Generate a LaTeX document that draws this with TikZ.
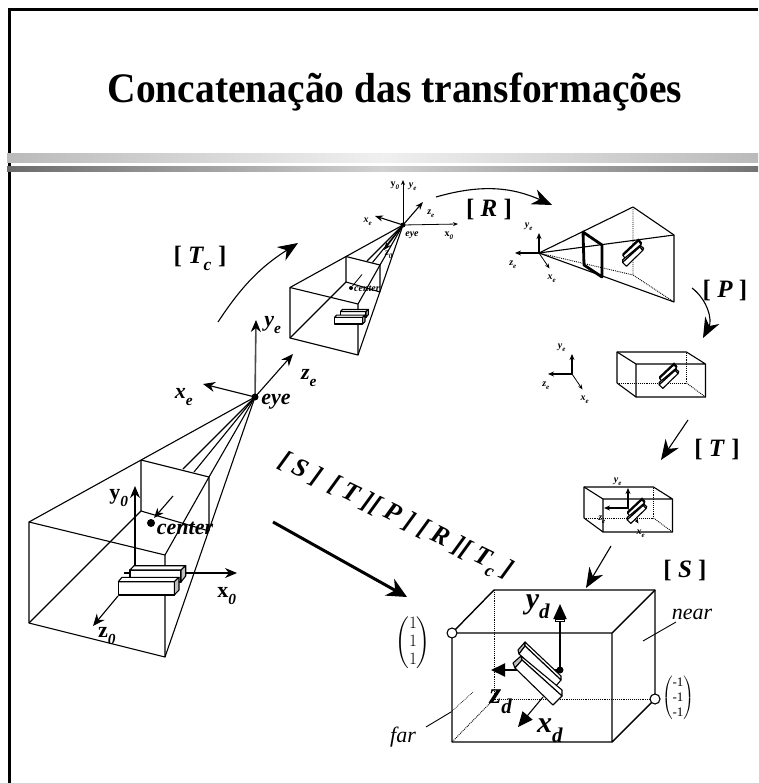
\documentclass[tikz,border=0pt]{standalone}
\usepackage{amsmath}
\usepackage{fontspec}
\setmainfont{Liberation Serif}
\usetikzlibrary{arrows.meta}
\newcommand{\lowsub}[1]{\raisebox{-.3ex}{\textsubscript{#1}}}
\tikzset{
    every node/.style={inner sep=0pt},
    edge/.style={line width=1.1pt, line join=round},
    hidden/.style={line width=.9pt, densely dotted},
    axis/.style={line width=1.1pt, -{Stealth[length=12pt,width=10pt]}},
    fatarrow/.style={line width=1.1pt, -{Stealth[length=20pt,width=16pt]}},
    smallthin/.style={line width=.8pt, -{Stealth[length=5pt,width=4pt]}},
    smallthick/.style={line width=1.8pt, -{Stealth[length=6pt,width=5pt]}},
    titletext/.style={font=\fontsize{42}{46}\selectfont\bfseries, xscale=.94},
    matlabel/.style={font=\fontsize{25}{27}\selectfont\bfseries},
    axbig/.style={font=\fontsize{30}{32}\selectfont\bfseries\itshape},
    axmid/.style={font=\fontsize{22}{24}\selectfont\bfseries\itshape},
    axtiny/.style={font=\fontsize{10}{11}\selectfont\bfseries\itshape},
    note/.style={font=\fontsize{22}{24}\selectfont\itshape},
}

\begin{document}
\begin{tikzpicture}[x=1pt, y=-1pt]
    \useasboundingbox (0,0) rectangle (758,783);

    % Frame and title
    \draw[line width=3pt] (9.5,783) -- (9.5,10) -- (758,10);
    \shade[left color=black!27, right color=black!27, middle color=black!6] (7,154) rectangle (758,163);
    \shade[left color=black!58, right color=black!55, middle color=black!18] (7,167) rectangle (758,172);
    \node[titletext] (title) at (395,92) {Concatenação das transformações};

    % Free ends of the arrows
    \foreach \nm/\x/\y in {tcA/218/322, tcB/298/243, rA/436/197, rB/552/205, pA/692/288, pB/703/338,
        tA/688/420, tB/661/460, sA/611/546, sB/586/588, allA/273/522, allB/407/597,
        mainEye/255/397, yeTip/256/320, xeTip/203/384, zeTip/293/354,
        mainY/135/565, yoTip/135/486, mainX/124/573, xoTip/237/573, mainZ/118/596, zoTip/93/626,
        camEye/403/225, camY/403/180, camX/458/224, camZe/423/202, camXe/375/216, camZo/384/250} {
        \coordinate (\nm) at (\x,\y);
    }

    % World frustum, and the same one seen from the eye at half size
    \foreach \fx/\fy/\fs in {0/0/1, 275.5/26.5/0.5} {
        \begin{scope}[shift={(\fx,\fy)}, scale=\fs]
            \coordinate (ap) at (255,397);
            \coordinate (fa) at (29,522);
            \coordinate (fb) at (165,555);
            \coordinate (fc) at (165,657);
            \coordinate (fd) at (29,623);
            \coordinate (na) at (141,460);
            \coordinate (nb) at (209,477);
            \coordinate (nc) at (209,531);
            \coordinate (nd) at (141,511);
            \coordinate (cen) at (151,523);
            \draw[edge] (fa) -- (fb) -- (fc) -- (fd) -- cycle;
            \draw[edge] (ap) -- (fa);
            \draw[edge] (ap) -- (fc);
            \draw[edge] (na) -- (nb) -- (nc);
            \draw[edge] (na) -- (nd) -- (nc);
            \draw[edge] (nb) -- (fb);
            \draw[edge] (nd) -- (fd);
            \draw[edge] (ap) -- (183,469);
            \draw[edge] (ap) -- (194,472);
            \draw[edge] (ap) -- (nb);
            \fill (cen) circle (4);
        \end{scope}
    }
    \draw[edge, -{Stealth[length=10pt,width=8pt]}] (173,496) -- (154,518);
    \draw[line width=.8pt] (362,274.5) -- (352.5,286);

    % World axes
    \draw[axis] (mainY) -- (yoTip);
    \draw[axis] (mainX) -- (xoTip);
    \draw[axis] (mainZ) -- (zoTip);

    % The two boxes, world view then eye view
    \foreach \fx/\fy/\fs in {0/0/1, 275.5/26.5/0.5} {
        \begin{scope}[shift={(\fx,\fy)}, scale=\fs]
            \draw[edge, fill=white] (130,570) rectangle (181,582);
            \draw[edge, fill=white] (134,565.7) -- (185.7,565.7) -- (181,570) -- (130,570) -- cycle;
            \draw[edge, fill=black!25] (181,570) -- (185.7,565.7) -- (185.7,576) -- (181,582) -- cycle;
            \draw[edge, fill=white] (118.3,581.7) rectangle (174.3,595);
            \draw[edge, fill=white] (122,577.3) -- (179,577.3) -- (174.3,581.7) -- (118.3,581.7) -- cycle;
            \draw[edge, fill=black!25] (174.3,581.7) -- (179,577.3) -- (179,590) -- (174.3,595) -- cycle;
        \end{scope}
    }

    % Axes at the eye
    \draw[axis, line width=1.6pt, black!70, -{Stealth[length=12pt,width=10pt,black]}] (mainEye) -- (yeTip);
    \draw[axis] (mainEye) -- (xeTip);
    \draw[axis] (mainEye) -- (zeTip);
    \fill (mainEye) circle (3.5);
    \draw[smallthin] (camEye) -- (camY);
    \draw[smallthin] (camEye) -- (camX);
    \draw[edge, -{Stealth[length=8pt,width=6pt]}] (camEye) -- (camZe);
    \draw[edge, -{Stealth[length=8pt,width=6pt]}] (camEye) -- (camXe);
    \draw[edge, -{Stealth[length=8pt,width=6pt]}] (camEye) -- (camZo);
    \fill (camEye) circle (2.5);

    % Labels of the world view
    \node[axmid] (lblEye) at (276,402) {eye};
    \node[axmid] (lblCenter) at (185,528) {center};
    \node[axmid] (lblXe) at (184,397) {x\lowsub{e}};
    \node[axmid] (lblYe) at (273,325) {y\lowsub{e}};
    \node[axmid] (lblZe) at (309,378) {z\lowsub{e}};
    \node[axmid] (lblYo) at (119,498) {\upshape y\lowsub{\itshape 0}};
    \node[axmid] (lblXo) at (227,596) {\upshape x\lowsub{\itshape 0}};
    \node[axmid] (lblZo) at (107,636) {\upshape z\lowsub{\itshape 0}};

    % Labels of the eye view
    \node[axtiny] (camLblYo) at (395,186) {\upshape y\lowsub{\itshape 0}};
    \node[axtiny] (camLblYe) at (413,187) {y\lowsub{e}};
    \node[axtiny] (camLblZe) at (431,214) {z\lowsub{e}};
    \node[axtiny] (camLblXe) at (368,222) {x\lowsub{e}};
    \node[axtiny] (camLblEye) at (412,235) {eye};
    \node[axtiny] (camLblXo) at (449,236) {\upshape x\lowsub{\itshape 0}};
    \node[axtiny] (camLblZo) at (389,255) {z\lowsub{0}};
    \node[axtiny] (camLblCen) at (367,289) {center};

    % Perspective frustum
    \coordinate (apex) at (539,253);
    \coordinate (farTop) at (633,207);
    \coordinate (farRight) at (674,235);
    \coordinate (farLow) at (674,302);
    \coordinate (farBack) at (633,275);
    \draw[edge] (apex) -- (farTop) -- (farRight) -- (farLow) -- cycle;
    \draw[edge] (apex) -- (farRight);
    \draw[hidden] (apex) -- (farBack);
    \draw[hidden] (farTop) -- (farBack) -- (farLow);
    \draw[line width=2.8pt, line join=round] (583,232) -- (602,245) -- (602,277) -- (584,265) -- cycle;

    % Canonical boxes, small
    \foreach \bx/\by in {617/352, 584/487} {
        \begin{scope}[shift={(\bx,\by)}]
            \draw[hidden] (0,31) -- (69.5,31) -- (69.5,0);
            \draw[hidden] (69.5,31) -- (88.5,45);
            \draw[edge] (0,31) -- (0,0) -- (69.5,0) -- (88.5,12) -- (88.5,45) -- (19,45) -- (19,12) -- (88.5,12);
            \draw[edge] (0,0) -- (19,12);
            \draw[edge] (0,31) -- (19,45);
        \end{scope}
    }

    % Small axes
    \foreach \g/\ox/\oy in {a/539/253, b/572/374, c/628/508} {
        \coordinate (org\g) at (\ox,\oy);
        \coordinate (ytip\g) at (\ox,\oy-20);
        \coordinate (ztip\g) at (\ox-24,\oy);
        \coordinate (xtip\g) at (\ox+10.5,\oy+15.5);
        \draw[smallthick] (org\g) -- (ytip\g);
        \draw[smallthick] (org\g) -- (ztip\g);
        \draw[smallthin] (org\g) -- (xtip\g);
        \node[axtiny] (y\g) at (\ox-10,\oy-26) {y\lowsub{e}};
        \node[axtiny] (z\g) at (\ox-26,\oy+12) {z\lowsub{e}};
        \node[axtiny] (x\g) at (\ox+13,\oy+26) {x\lowsub{e}};
    }

    % Big canonical box
    \coordinate (bTL) at (494,590);
    \coordinate (bTR) at (655,590);
    \coordinate (bBL) at (494,699);
    \coordinate (bBR) at (655,699);
    \coordinate (fTL) at (452,633);
    \coordinate (fTR) at (612,633);
    \coordinate (fBL) at (452,742);
    \coordinate (fBR) at (612,742);
    \draw[hidden] (bTL) -- (bBL) -- (bBR);
    \draw[hidden] (bBL) -- (fBL);
    \draw[edge, line width=1.4pt] (fTL) -- (bTL) -- (bTR) -- (bBR) -- (fBR) -- (fBL) -- (fTL) -- (fTR) -- (fBR);
    \draw[edge, line width=1.4pt] (fTR) -- (bTR);
    \draw[edge, fill=white] (fTL) circle (5);
    \draw[edge, fill=white] (bBR) circle (5);

    % Big axes
    \coordinate (orgd) at (560,670);
    \coordinate (ydTip) at (560,604);
    \coordinate (zdTip) at (491,670);
    \coordinate (xdTip) at (518,727);
    \draw[line width=2pt, -{Stealth[length=15pt,width=13pt,inset=0pt]}] (orgd) -- (ydTip);
    \draw[line width=.8pt, fill=white] (555.5,619) rectangle (564.5,621.5);
    \draw[line width=2pt, -{Stealth[length=14pt,width=13pt,inset=0pt]}] (orgd) -- (zdTip);
    \fill (orgd) circle (3.5);
    \draw[edge, -{Stealth[length=15pt,width=13pt,inset=0pt]}] (543,697) -- (xdTip);

    % Bars, same drawing at each size, the small ones mirrored
    \foreach \cx/\cy/\cs/\cm in {540/674/1/1, 632/253/0.43/-1, 668/376/0.4/-1, 636/511/0.4/-1} {
        \begin{scope}[shift={(\cx,\cy)}, scale=\cs, xscale=\cm]
            \draw[edge, fill=black!25] (-22,-24) -- (-15,-32) -- (-15,-28) -- (-21,-20) -- cycle;
            \draw[edge, fill=white] (-15,-32) -- (21,2) -- (21,6) -- (-15,-28) -- cycle;
            \draw[edge, fill=white] (-21,-20) -- (-15,-28) -- (21,6) -- (15,13) -- cycle;
            \draw[edge, fill=black!25] (-27,-11) -- (-19,-18) -- (-18,-14) -- (-25,-6) -- cycle;
            \draw[edge, fill=white] (-19,-18) -- (22,16) -- (22,22) -- (-18,-14) -- cycle;
            \draw[edge, fill=white] (-25,-6) -- (-18,-14) -- (22,22) -- (13,31) -- cycle;
        \end{scope}
    }

    % Labels of the big box
    \node[axbig] (lblYd) at (538,607) {y\lowsub{d}};
    \node[axbig] (lblZd) at (501,702) {z\lowsub{d}};
    \node[axbig] (lblXd) at (550,731) {x\lowsub{d}};
    \node[note] (lblNear) at (692,614) {near};
    \node[note] (lblFar) at (403,737) {far};
    \coordinate (nearEnd) at (643,641);
    \coordinate (nearStart) at (676,622);
    \coordinate (farEnd) at (451,712);
    \coordinate (farStart) at (426,727);
    \coordinate (farIn) at (473,692);
    \draw[line width=.9pt] (nearStart) -- (nearEnd);
    \draw[line width=.9pt] (farStart) -- (farEnd);
    \draw[line width=.7pt, densely dotted] (farEnd) -- (farIn);
    \node[font=\fontsize{16}{18}\selectfont] (matHi) at (413,643) {$\begin{pmatrix}1\\1\\1\end{pmatrix}$};
    \node[font=\fontsize{13}{15}\selectfont] (matLo) at (678,698) {$\begin{pmatrix}\text{-1}\\\text{-1}\\\text{-1}\end{pmatrix}$};

    % Transformation arrows
    \draw[fatarrow] (tcA) to[bend left=12] (tcB);
    \draw[fatarrow] (rA) to[bend left=20] (rB);
    \draw[fatarrow] (pA) to[bend left=40] (pB);
    \draw[fatarrow] (tA) -- (tB);
    \draw[fatarrow] (sA) -- (sB);
    \draw[line width=3pt, -{Stealth[length=20pt,width=19pt]}] (allA) -- (allB);

    \node[matlabel] (matTc) at (200,258) {[ \textit{T\lowsub{c}} ]};
    \node[matlabel] (matR) at (489,209) {[ \textit{R} ]};
    \node[matlabel] (matP) at (725,290) {[ \textit{P} ]};
    \node[matlabel] (matT) at (717,449) {[ \textit{T} ]};
    \node[matlabel] (matS) at (685,570) {[ \textit{S} ]};
    \node[matlabel, font=\fontsize{26}{28}\selectfont\bfseries\itshape, rotate=-26] (matAll) at (395,517)
        {[ S ] \,[ T ][ P ] [ R ][ T\lowsub{c} ]};
\end{tikzpicture}
\end{document}
